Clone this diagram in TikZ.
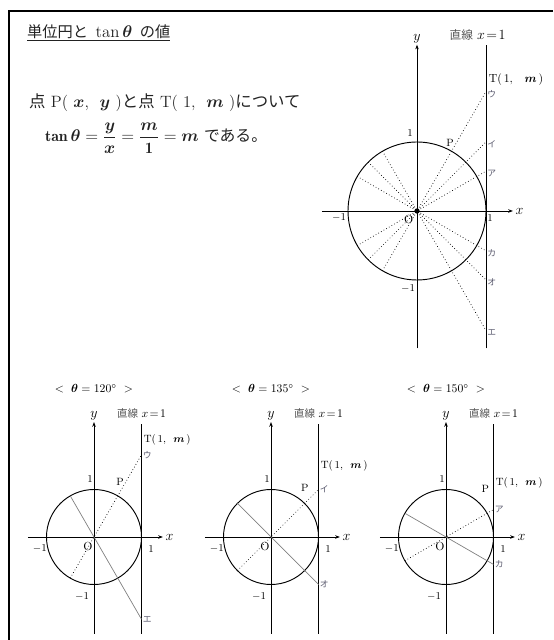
\documentclass[tikz,border=0pt]{standalone}
\usepackage{amsmath}
\usepackage{fontspec}
\newfontfamily\jpfont{Noto Sans CJK JP}
\newcommand{\ja}[1]{{\jpfont #1}}
\newcommand{\bm}[1]{\boldsymbol{#1}}
\usetikzlibrary{positioning, arrows.meta}
\definecolor{textGrey}{HTML}{222222}
\definecolor{lineGrey}{HTML}{333333}
\definecolor{nameGrey}{HTML}{555555}
\definecolor{thetaGrey}{HTML}{808080}
\definecolor{kanaGrey}{HTML}{5A5A6E}

\begin{document}
\begin{tikzpicture}[
    axisline/.style={-{Stealth[length=4pt, width=3pt]}, line width=0.6pt},
    tanline/.style={line width=0.6pt},
    unitcircle/.style={line width=0.8pt},
    guide/.style={dotted, line width=0.6pt},
    thetaline/.style={thetaGrey, line width=0.6pt},
    kana/.style={font=\fontsize{7.5}{8}\selectfont\jpfont, text=kanaGrey, inner sep=1pt},
    num/.style={font=\small, inner sep=1pt},
    tpoint/.style={anchor=west, inner sep=1pt},
  ]
    \useasboundingbox (0,0) rectangle (16.59,19.2);
    % frame
    \draw[line width=0.9pt] (16.59,18.87) -- (0.27,18.87) -- (0.27,0);

    % text block
    \node[anchor=west, font=\fontsize{13}{15}\selectfont, text=textGrey] (title) at (0.69,18.21)
      {\underline{\ja{単位円と}\enspace{\Large$\tan\bm{\theta}$}\enspace\ja{の値}}};
    \node[anchor=west, font=\fontsize{14}{16}\selectfont, text=textGrey] (line1) at (0.75,16.11)
      {\ja{点}\ P(\ $\bm{x}$,\ \ $\bm{y}$\ )\ja{と点}\ T(\ 1,\ \ $\bm{m}$\ )\ja{について}};
    \node[anchor=west, font=\fontsize{13.5}{16}\selectfont, text=textGrey] (line2) at (1.23,15.06)
      {$\mathbf{tan}\,\bm{\theta}=\dfrac{\bm{y}}{\bm{x}}=\dfrac{\bm{m}}{\mathbf{1}}=\bm{m}$ \ja{である。}};

    % main unit circle
    \begin{scope}[shift={(12.51,12.87)}, scale=2.07]
      \coordinate (O) at (0,0);
      \draw[axisline] (-1.38,0) -- (1.39,0) node[right, inner sep=2pt] (xlab) {\large$x$};
      \draw[axisline] (0,-1.99) -- (0,2.41) node[above, inner sep=1pt] (ylab) {\large$y$};
      \draw[tanline] (1,-1.99) -- (1,2.41) coordinate (ltop);
      \node[above=0pt of ltop, xshift=-0.25cm] (lname) {\ja{\color{nameGrey}直線} \large$x\!=\!1$};
      \draw[unitcircle] (O) circle (1);
      \foreach \th/\up/\dn in {150/ア/カ, 135/イ/オ, 120/ウ/エ} {
        \draw[guide] (\th:1) coordinate (c\th) -- (1,{tan(\th)}) coordinate (dn\th);
        \draw[guide] (-\th:1) coordinate (d\th) -- (1,{-tan(\th)}) coordinate (up\th);
        \node[kana, anchor=west, yshift=-2pt] (kup\th) at (up\th) {\up};
        \node[kana, anchor=west, yshift=-2pt] (kdn\th) at (dn\th) {\dn};
      }
      \fill (O) circle (1.1pt);
      \node[tpoint] (tlab) at (1.02,1.91) {T(\,1,\ \ \ $\bm{m}$\,)};
      \node[font=\small, inner sep=1pt] (plab) at (0.48,0.99) {P};
      \node[num] (n1) at (-0.1,1.13) {1};
      \node[num] (nm1) at (-1.13,-0.09) {$-1$};
      \node[num] (n1r) at (1.06,-0.1) {1};
      \node[num] (nm1b) at (-0.13,-1.13) {$-1$};
      \node[inner sep=1pt] (olab) at (-0.12,-0.13) {O};
    \end{scope}

    % three small cases
    \foreach \th/\cx/\up/\dn/\ty/\px/\py in {120/2.82/ウ/エ/2.04/0.55/1.16,
        135/8.13/イ/オ/1.5/0.71/1.04, 150/13.38/ア/カ/1.15/0.83/1.02} {
      \begin{scope}[shift={(\cx,3.09)}, scale=1.425]
        \draw[axisline] (-1.39,0) -- (1.45,0) node[right, inner sep=2pt] (sx\th) {\large$x$};
        \draw[axisline] (0,-2.04) -- (0,2.42) node[above, inner sep=1pt] (sy\th) {\large$y$};
        \draw[tanline] (1,-2.04) -- (1,2.38) coordinate (st\th);
        \node[above=1pt of st\th, font=\small] (sl\th) {\ja{\color{nameGrey}直線} \normalsize$x\!=\!1$};
        \node (sh\th) at (0,3.12) {$<\ \bm{\theta}=\th^\circ\ >$};
        \draw[unitcircle] (0,0) circle (1);
        \draw[thetaline] (\th:1) -- (1,{tan(\th)}) coordinate (sdn\th);
        \draw[guide] (-\th:1) -- (1,{-tan(\th)}) coordinate (sup\th);
        \node[kana, anchor=west] (skup\th) at (sup\th) {\up};
        \node[kana, anchor=west] (skdn\th) at (sdn\th) {\dn};
        \node[tpoint, font=\small] (stl\th) at (1.02,\ty) {T(\,1,\ \ $\bm{m}$\,)};
        \node[font=\small, inner sep=1pt] (spl\th) at (\px,\py) {P};
        \node[num] (sn1\th) at (-0.08,1.22) {1};
        \node[num] (snm1\th) at (-1.14,-0.25) {$-1$};
        \node[num] (sn1r\th) at (1.2,-0.25) {1};
        \node[num] (snm1b\th) at (-0.25,-1.26) {$-1$};
        \node[inner sep=1pt] (sol\th) at (-0.13,-0.21) {O};
      \end{scope}
    }
  \end{tikzpicture}
\end{document}
